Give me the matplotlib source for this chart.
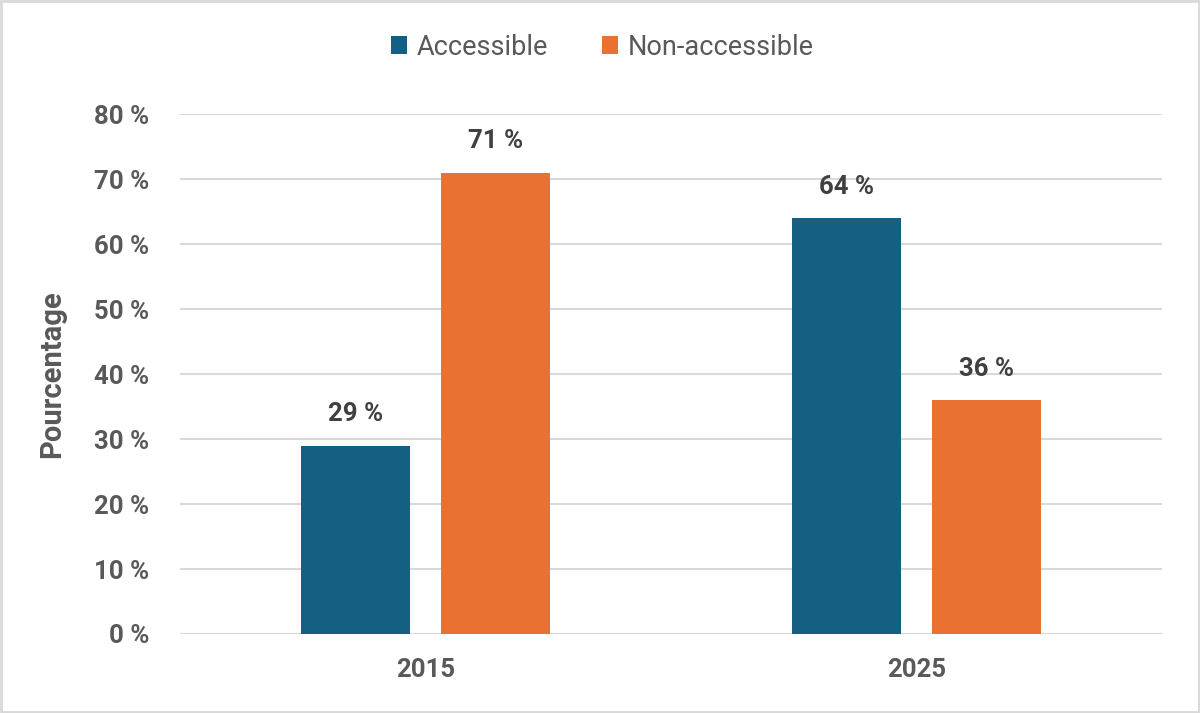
import matplotlib.pyplot as plt
import numpy as np
from matplotlib.patches import Rectangle

years = ["2015", "2025"]
accessible = [29, 64]
non_accessible = [71, 36]
series_names = ["Accessible", "Non-accessible"]
yticks = [0, 10, 20, 30, 40, 50, 60, 70, 80]

blue = "#156082"
orange = "#E97132"
tick_color = "#595959"
label_color = "#404040"

plt.rcParams["font.family"] = ["Roboto", "DejaVu Sans"]

fig = plt.figure(figsize=(12, 7.13), dpi=100)
ax = fig.add_axes([0.15, 0.1108, 0.8183, 0.7293])

x = np.arange(len(years))
w = 0.222
off = 0.1426
b1 = ax.bar(x - off, accessible, w, color=blue, label=series_names[0], zorder=3)
b2 = ax.bar(x + off, non_accessible, w, color=orange, label=series_names[1], zorder=3)

for bars in (b1, b2):
    for r in bars:
        ax.annotate(f"{r.get_height():.0f} %", (r.get_x() + r.get_width() / 2, r.get_height()),
                    xytext=(0, 14), textcoords="offset points", ha="center", va="bottom",
                    fontsize=18.5, fontweight="bold", color=label_color)

ax.set_xlim(-0.5, 1.5)
ax.set_ylim(0, 80)
ax.set_yticks(yticks)
ax.set_yticklabels([f"{v} %" for v in yticks])
ax.set_xticks(x)
ax.set_xticklabels(years)
ax.yaxis.grid(True, color="#D9D9D9", lw=1.5, zorder=0)
ax.set_axisbelow(True)
for s in ax.spines.values():
    s.set_visible(False)
ax.tick_params(axis="both", length=0, labelsize=18.5, labelcolor=tick_color)
ax.tick_params(axis="y", pad=22)
ax.tick_params(axis="x", pad=17)
for t in ax.get_xticklabels() + ax.get_yticklabels():
    t.set_fontweight("bold")

ax.set_ylabel("Pourcentage", fontsize=21, fontweight="bold", color=tick_color, labelpad=20)

fig.legend(loc="center", bbox_to_anchor=(0.502, 0.934), ncol=2, frameon=False,
           fontsize=19.5, labelcolor=tick_color, handlelength=0.6, handleheight=0.6,
           handletextpad=0.35, columnspacing=2.0)

fig.patches.append(Rectangle((0.001, 0.001), 0.998, 0.997, transform=fig.transFigure,
                             fill=False, edgecolor="#D9D9D9", lw=2))

fig.savefig("out.png", dpi=100)
